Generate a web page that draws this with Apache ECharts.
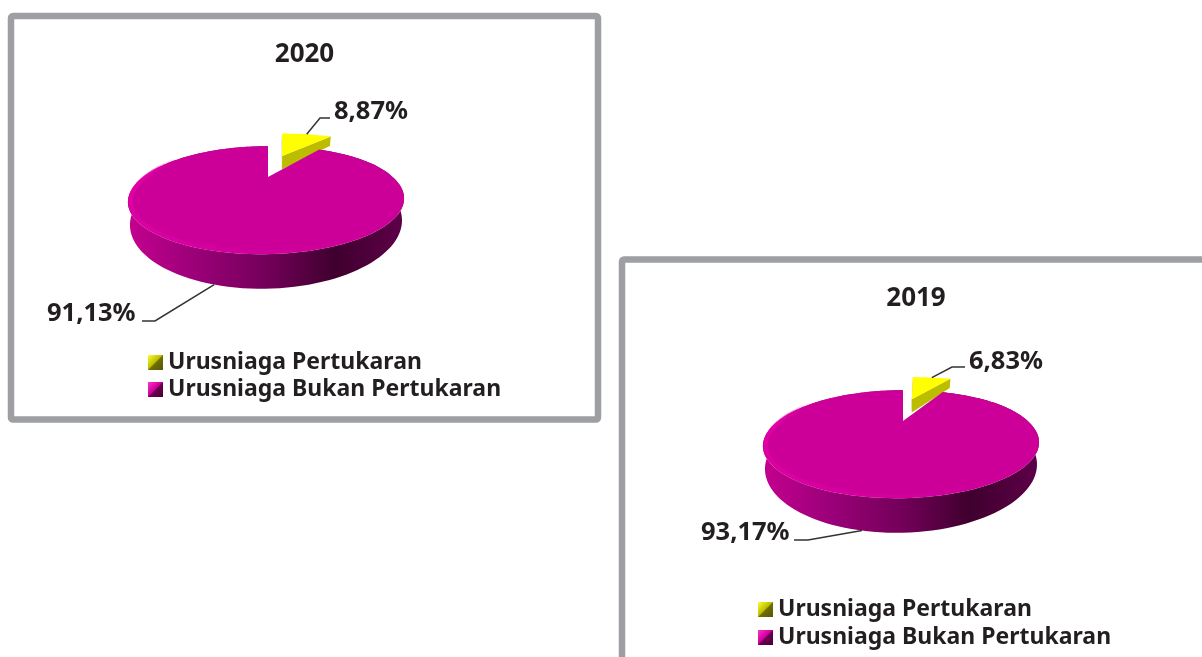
<!DOCTYPE html>
<html>
<head>
<meta charset="utf-8">
<title>Urusniaga 2020 / 2019</title>
<script src="https://cdn.jsdelivr.net/npm/echarts@6/dist/echarts.min.js"></script>
<style>
  html, body { margin: 0; padding: 0; background: #fff; }
  #chart { width: 1202px; height: 657px; }
</style>
</head>
<body>
<div id="chart"></div>
<script>
const categories = ['Urusniaga Pertukaran', 'Urusniaga Bukan Pertukaran']
const years = ['2020', '2019']
const values2020 = [8.87, 91.13]
const values2019 = [6.83, 93.17]

const FONT = '"Noto Sans", sans-serif'
const TEXT_COLOR = '#231f20'
const PERSPECTIVE = 0.43
const SHEAR = 0.087
const DEPTH = 17.6
const DEPTH_POW = 1.2
const LOWER_SCALE = 0.985
const SMALL_RADIUS = 1.12
const SMALL_TWIST = 2
const BIG_ANCHOR_SHIFT = 3

// one layout per pie: tip of the big slice, scale on screen, explode of the small slice, label places
const layouts = [
  {
    tip: [268, 177], rx: 138, ry: 54, smallOff: [0.138, 0.6],
    labels: [{ elbow: [320, 118], end: [330, 118], text: [334, 112] }, { elbow: [155, 321], end: [142, 321], text: [47, 314] }]
  },
  {
    tip: [903, 421], rx: 138, ry: 54, smallOff: [0.087, 0.63],
    labels: [{ elbow: [952, 367], end: [965, 367], text: [969, 362] }, { elbow: [808, 540], end: [794, 540], text: [701, 533] }]
  }
]

const project = (lay, u, v, lower) => {
  const k = PERSPECTIVE
  const w = 1 + k * v
  const sx = lay.rx * Math.sqrt(1 - k * k)
  const sy = lay.ry * (1 - k * k)
  const dy = -sy * v / w
  const lean = dy > 0 ? -SHEAR * dy : -2 * SHEAR * dy * Math.max(0, u)
  const x = lay.tip[0] + sx * (lower ? u * LOWER_SCALE : u) / w + lean
  const y = lay.tip[1] + dy
  return [x, lower ? y + DEPTH / Math.pow(w, DEPTH_POW) : y]
}

const arcPoints = (lay, from, to, off, radius, lower) => {
  const pts = []
  const steps = Math.max(4, Math.ceil((to - from) / 2))
  for (let i = 0; i <= steps; i++) {
    const a = (from + (to - from) * i / steps) * Math.PI / 180
    pts.push(project(lay, off[0] + radius * Math.sin(a), off[1] + radius * Math.cos(a), lower))
  }
  return pts
}

const wallGradient = lay => ({
  type: 'linear', global: true,
  x: lay.tip[0] - 140, y: 0, x2: lay.tip[0] + 136, y2: 0,
  colorStops: [
    { offset: 0, color: '#c4008f' },
    { offset: 0.25, color: '#9a0078' },
    { offset: 0.5, color: '#74005a' },
    { offset: 0.75, color: '#3f002e' },
    { offset: 1, color: '#5e0048' }
  ]
})

// lit bevel along the front of the rim, fading out at both ends
const rimSegments = lay => {
  const segs = []
  for (let a = 140; a < 296; a += 4) {
    const alpha = 0.75 * Math.min(1, (296 - a) / 30) * Math.min(1, (a - 140) / 110)
    segs.push({
      type: 'polyline',
      shape: { points: arcPoints(lay, a, a + 4, [0, 0], 0.985, false) },
      style: { fill: 'none', stroke: 'rgba(232,0,170,' + alpha.toFixed(2) + ')', lineWidth: 4 }
    })
  }
  return segs
}

const pieSlice = (chartIdx, sliceIdx, values) => (params, api) => {
  const lay = layouts[chartIdx]
  const value = api.value(0)
  const first = values[0] * 3.6
  const isSmall = sliceIdx === 0
  const from = isSmall ? SMALL_TWIST : first
  const to = isSmall ? first + SMALL_TWIST : 360
  const mid = (from + to) / 2 * Math.PI / 180
  const off = isSmall ? lay.smallOff : [0, 0]
  const radius = isSmall ? SMALL_RADIUS : 1

  const top = arcPoints(lay, from, to, off, radius, false)
  const low = arcPoints(lay, from, to, off, radius, true)
  const apexTop = project(lay, off[0], off[1], false)
  const apexLow = project(lay, off[0], off[1], true)
  let children = []

  if (isSmall) {
    children.push({
      type: 'polygon', shape: { points: [apexTop, top[0], low[0], apexLow] },
      style: { fill: '#6f6f2c' }
    })
    children.push({
      type: 'polygon', shape: { points: [apexTop, top[top.length - 1], low[low.length - 1], apexLow] },
      style: { fill: '#bdbd00' }
    })
    children.push({
      type: 'polygon', shape: { points: [apexTop].concat(top) },
      style: { fill: '#ffff00' }
    })
  } else {
    children.push({
      type: 'polygon', shape: { points: top.concat(low.slice().reverse()) },
      style: { fill: wallGradient(lay) }
    })
    children.push({
      type: 'polygon', shape: { points: [apexTop].concat(top) },
      style: { fill: '#cc0099' }
    })
    children = children.concat(rimSegments(lay))
  }

  // leader line and percent label
  const label = lay.labels[sliceIdx]
  const anchorAngle = isSmall ? mid : mid - BIG_ANCHOR_SHIFT * Math.PI / 180
  const anchor = project(lay, off[0] + radius * Math.sin(anchorAngle), off[1] + radius * Math.cos(anchorAngle), !isSmall)
  children.push({
    type: 'polyline',
    shape: { points: [anchor, label.elbow, label.end] },
    style: { fill: 'none', stroke: '#333333', lineWidth: 1.5 }
  })
  children.push({
    type: 'text',
    style: {
      text: value.toFixed(2).replace('.', ',') + '%',
      x: label.text[0], y: label.text[1],
      align: 'left', verticalAlign: 'middle',
      font: 'bold 25.5px ' + FONT, fill: TEXT_COLOR
    }
  })
  return { type: 'group', children }
}

const legendIcon = (c0, c1, c2, c3) => ({
  type: 'linear', x: 0, y: 0, x2: 1, y2: 1,
  colorStops: [
    { offset: 0, color: c0 },
    { offset: 0.47, color: c1 },
    { offset: 0.53, color: c2 },
    { offset: 1, color: c3 }
  ]
})

const legendData = [
  { name: categories[0], icon: 'rect', itemStyle: { color: legendIcon('#ffff33', '#bdbd00', '#6f6f00', '#55550a') } },
  { name: categories[1], icon: 'rect', itemStyle: { color: legendIcon('#ff33cc', '#cc0099', '#6a0050', '#4a0038') } }
]

const makeLegend = (left, top, gap) => ({
  left, top, orient: 'vertical', selectedMode: false,
  itemWidth: 15, itemHeight: 15, itemGap: gap,
  textStyle: { fontFamily: FONT, fontWeight: 'bold', fontSize: 23, color: TEXT_COLOR },
  data: legendData
})

const makeSeries = (chartIdx, values) => categories.map((name, i) => ({
  type: 'custom',
  name,
  coordinateSystem: 'none',
  z: i === 0 ? 2 : 3,
  silent: true,
  itemStyle: { color: i === 0 ? '#ffff00' : '#cc0099' },
  data: [[values[i]]],
  renderItem: pieSlice(chartIdx, i, values)
}))

const titleStyle = { fontFamily: FONT, fontWeight: 'bold', fontSize: 26, color: TEXT_COLOR }

const chart = echarts.init(document.getElementById('chart'))
chart.setOption({
  animation: false,
  backgroundColor: '#ffffff',
  title: [
    { text: years[0], left: 299.5, top: 50, textAlign: 'center', textVerticalAlign: 'middle', textStyle: titleStyle },
    { text: years[1], left: 911, top: 294, textAlign: 'center', textVerticalAlign: 'middle', textStyle: titleStyle }
  ],
  legend: [makeLegend(143, 346, 4), makeLegend(753, 593, 5)],
  graphic: [
    { type: 'rect', z: 0, shape: { x: 11, y: 16, width: 587, height: 403.5, r: 2 }, style: { fill: 'none', stroke: '#9d9fa2', lineWidth: 6.5 } },
    { type: 'rect', z: 0, shape: { x: 622, y: 259.5, width: 620, height: 440, r: 2 }, style: { fill: 'none', stroke: '#9d9fa2', lineWidth: 6.5 } }
  ],
  series: makeSeries(0, values2020).concat(makeSeries(1, values2019))
})
</script>
</body>
</html>
